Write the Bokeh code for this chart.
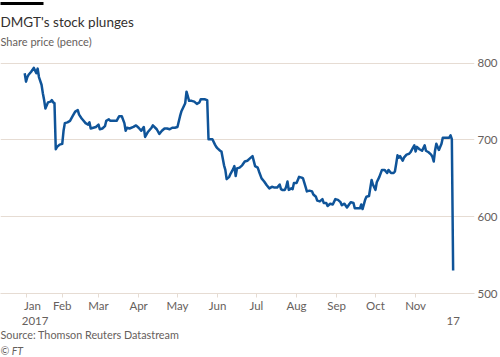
import pandas as pd
from bokeh.plotting import figure
from bokeh.models import FixedTicker, Range1d, DatetimeAxis, LinearAxis, Title
from bokeh.embed import file_html
from bokeh.resources import INLINE

# ---------------- data ----------------
dates = [
    "2017-01-03", "2017-01-04", "2017-01-05", "2017-01-06", "2017-01-08", "2017-01-10", "2017-01-12",
    "2017-01-13", "2017-01-14", "2017-01-16", "2017-01-17", "2017-01-18", "2017-01-19", "2017-01-21",
    "2017-01-23", "2017-01-24", "2017-01-25", "2017-01-26", "2017-01-27", "2017-01-28", "2017-01-30",
    "2017-02-01", "2017-02-02", "2017-02-03", "2017-02-05", "2017-02-07", "2017-02-09", "2017-02-11",
    "2017-02-13", "2017-02-14", "2017-02-16", "2017-02-17", "2017-02-19", "2017-02-21", "2017-02-22",
    "2017-02-23", "2017-02-25", "2017-02-27", "2017-03-01", "2017-03-02", "2017-03-04", "2017-03-06",
    "2017-03-07", "2017-03-09", "2017-03-10", "2017-03-12", "2017-03-15", "2017-03-17", "2017-03-19",
    "2017-03-21", "2017-03-22", "2017-03-23", "2017-03-25", "2017-03-28", "2017-03-30", "2017-04-01",
    "2017-04-03", "2017-04-05", "2017-04-06", "2017-04-08", "2017-04-11", "2017-04-12", "2017-04-15",
    "2017-04-17", "2017-04-19", "2017-04-21", "2017-04-23", "2017-04-25", "2017-04-27", "2017-04-29",
    "2017-05-01", "2017-05-03", "2017-05-04", "2017-05-07", "2017-05-08", "2017-05-10", "2017-05-12",
    "2017-05-14", "2017-05-16", "2017-05-18", "2017-05-19", "2017-05-22", "2017-05-24", "2017-05-25",
    "2017-05-26", "2017-05-28", "2017-05-30", "2017-05-31", "2017-06-01", "2017-06-03", "2017-06-04",
    "2017-06-06", "2017-06-07", "2017-06-08", "2017-06-10", "2017-06-11", "2017-06-13", "2017-06-14",
    "2017-06-15", "2017-06-16", "2017-06-18", "2017-06-20", "2017-06-22", "2017-06-24", "2017-06-26",
    "2017-06-28", "2017-06-30", "2017-07-02", "2017-07-03", "2017-07-05", "2017-07-07", "2017-07-09",
    "2017-07-11", "2017-07-13", "2017-07-15", "2017-07-17", "2017-07-19", "2017-07-20", "2017-07-21",
    "2017-07-23", "2017-07-24", "2017-07-25", "2017-07-26", "2017-07-28", "2017-07-29", "2017-07-30",
    "2017-08-01", "2017-08-02", "2017-08-03", "2017-08-05", "2017-08-06", "2017-08-08", "2017-08-09",
    "2017-08-11", "2017-08-13", "2017-08-14", "2017-08-16", "2017-08-17", "2017-08-19", "2017-08-21",
    "2017-08-22", "2017-08-24", "2017-08-25", "2017-08-27", "2017-08-29", "2017-08-31", "2017-09-02",
    "2017-09-04", "2017-09-05", "2017-09-07", "2017-09-09", "2017-09-11", "2017-09-12", "2017-09-14",
    "2017-09-15", "2017-09-17", "2017-09-19", "2017-09-20", "2017-09-21", "2017-09-23", "2017-09-24",
    "2017-09-26", "2017-09-28", "2017-09-29", "2017-10-01", "2017-10-02", "2017-10-04", "2017-10-06",
    "2017-10-08", "2017-10-10", "2017-10-11", "2017-10-13", "2017-10-15", "2017-10-16", "2017-10-17",
    "2017-10-18", "2017-10-19", "2017-10-20", "2017-10-22", "2017-10-23", "2017-10-25", "2017-10-27",
    "2017-10-28", "2017-10-30", "2017-10-31", "2017-11-01", "2017-11-02", "2017-11-04", "2017-11-06",
    "2017-11-08", "2017-11-09", "2017-11-11", "2017-11-13", "2017-11-14", "2017-11-15", "2017-11-16",
    "2017-11-17", "2017-11-18", "2017-11-19", "2017-11-21", "2017-11-22", "2017-11-24", "2017-11-26",
    "2017-11-27", "2017-11-28", "2017-11-29", "2017-11-30",
]
prices = [
    787, 776, 782, 785, 789, 794, 787,
    793, 782, 772, 761, 752, 741, 749,
    750, 752, 749, 748, 688, 691, 694,
    695, 712, 722, 723, 725, 731, 737,
    739, 733, 728, 726, 722, 720, 723,
    715, 716, 717, 720, 714, 715, 718,
    725, 727, 725, 725, 725, 731, 731,
    722, 712, 716, 715, 717, 719, 716,
    712, 717, 704, 710, 716, 719, 714,
    708, 712, 715, 715, 714, 716, 716,
    717, 731, 737, 748, 763, 751, 751,
    750, 747, 749, 753, 753, 752, 701,
    701, 701, 694, 691, 689, 686, 685,
    667, 661, 649, 652, 656, 662, 666,
    653, 663, 664, 667, 672, 673, 676,
    679, 666, 664, 659, 650, 646, 641,
    637, 639, 638, 638, 642, 636, 635,
    635, 639, 646, 635, 637, 636, 644,
    644, 648, 652, 651, 650, 639, 633,
    634, 633, 629, 626, 621, 620, 623,
    618, 618, 614, 617, 616, 623, 622,
    619, 615, 617, 612, 617, 619, 618,
    611, 611, 611, 616, 610, 622, 626,
    627, 648, 642, 635, 645, 652, 661,
    661, 657, 661, 657, 657, 659, 669,
    680, 677, 679, 673, 677, 681, 682,
    684, 690, 693, 685, 691, 688, 686,
    693, 686, 684, 681, 678, 672, 686,
    695, 691, 687, 695, 703, 703, 703,
    703, 706, 701, 530,
]

month_tick_dates = ["2017-01-04", "2017-02-01", "2017-03-01", "2017-04-01", "2017-05-01", "2017-06-01",
                    "2017-07-01", "2017-08-01", "2017-09-01", "2017-10-01", "2017-11-01"]
month_labels = ["Jan", "Feb", "Mar", "Apr", "May", "Jun", "Jul", "Aug", "Sep", "Oct", "Nov"]
year_label_dates = ["2017-01-04", "2017-11-30"]
year_labels = ["2017", "17"]
y_ticks = [500, 600, 700, 800]

title_text = "DMGT's stock plunges"
subtitle_text = "Share price (pence)"
source_text = "Source: Thomson Reuters Datastream"
credit_text = "\u00a9 FT"

# ---------------- style ----------------
FONT = "Lato"
GRID = "#e6dcd3"
GREY = "#66605c"
LINE = "#0f5499"
DARK = "#33302e"
TICK_FS = "11.5px"
# labels that start at their tick (left-aligned look) are centred a few days later
JAN_SHIFT = pd.Timedelta(days=5)
YEAR_SHIFT = pd.Timedelta(days=7)
FRAME_W = 476      # plot-area width in px (used for the brand bar axis)
BAR_W = 43


def ms(d):
    return int(pd.Timestamp(d).value // 10**6)


def blank_axis(size):
    """An invisible axis used only as vertical space (one hidden tick gives it height)."""
    mid = FRAME_W / 2
    ax = LinearAxis(x_range_name="px", ticker=FixedTicker(ticks=[mid] if size > 0 else []),
                    major_label_overrides={mid: ""})
    ax.axis_line_color = None
    ax.major_tick_line_color = None
    ax.minor_tick_line_color = None
    ax.major_tick_in = 0
    ax.major_tick_out = size
    ax.major_label_standoff = 0
    ax.major_label_text_font_size = "0px"
    return ax


x = pd.to_datetime(dates)

p = figure(width=500, height=357, x_axis_type="datetime", y_axis_location="right",
           x_range=Range1d(pd.Timestamp("2016-12-15 07:00"), pd.Timestamp("2017-12-16 12:00")),
           y_range=Range1d(500, 817.9), title=None,
           toolbar_location=None, output_backend="svg",
           min_border_left=0, min_border_right=24, min_border_top=49, min_border_bottom=60)
p.outline_line_color = None
p.background_fill_color = "white"
p.border_fill_color = "white"
p.extra_x_ranges = {"px": Range1d(0, FRAME_W)}

p.line(x=x, y=prices, line_color=LINE, line_width=2.5, line_join="round")

# x axis: line + tick marks only
tick_ms = [ms(d) for d in month_tick_dates]
xa = p.xaxis[0]
xa.ticker = FixedTicker(ticks=tick_ms)
xa.major_label_overrides = {t: "" for t in tick_ms}
xa.major_label_text_font_size = "0px"
xa.major_label_standoff = 0
xa.axis_line_color = GRID
xa.major_tick_line_color = GRID
xa.major_tick_in = 0
xa.major_tick_out = 4
xa.minor_tick_line_color = None
p.xgrid.visible = False


def label_axis(positions, labels, standoff):
    pos_ms = [int(pd.Timestamp(v).value // 10**6) for v in positions]
    ax = DatetimeAxis(ticker=FixedTicker(ticks=pos_ms),
                      major_label_overrides={t: lab for t, lab in zip(pos_ms, labels)})
    ax.axis_line_color = None
    ax.major_tick_line_color = None
    ax.minor_tick_line_color = None
    ax.major_tick_in = 0
    ax.major_tick_out = 0
    ax.major_label_standoff = standoff
    ax.major_label_text_font = FONT
    ax.major_label_text_font_size = TICK_FS
    ax.major_label_text_color = GREY
    return ax


row1_pos = [pd.Timestamp(month_tick_dates[0]) + JAN_SHIFT] + [pd.Timestamp(d) for d in month_tick_dates[1:]]
p.add_layout(label_axis(row1_pos, month_labels, 1), "below")
row2_pos = [pd.Timestamp(year_label_dates[0]) + YEAR_SHIFT, pd.Timestamp(year_label_dates[1])]
p.add_layout(label_axis(row2_pos, year_labels, 2), "below")

# y axis
ya = p.yaxis[0]
ya.ticker = FixedTicker(ticks=y_ticks)
ya.axis_line_color = None
ya.major_tick_line_color = None
ya.minor_tick_line_color = None
ya.major_tick_in = 0
ya.major_tick_out = 0
ya.major_label_standoff = 3
ya.major_label_text_font = FONT
ya.major_label_text_font_size = TICK_FS
ya.major_label_text_color = GREY
p.ygrid[0].ticker = ya.ticker
p.ygrid.grid_line_color = GRID
p.ygrid.grid_line_width = 1

# titles (first added sits nearest the plot)
p.add_layout(Title(text=subtitle_text, align="left", vertical_align="top", standoff=0,
                   text_font=FONT, text_font_size="11px", text_font_style="normal",
                   text_color=GREY), "above")
p.add_layout(Title(text=title_text, align="left", vertical_align="top", standoff=6,
                   text_font=FONT, text_font_size="13.5px", text_font_style="normal",
                   text_color=DARK), "above")
p.add_layout(blank_axis(7), "above")

# FT brand bar: a bounded axis line at the very top
bar_axis = blank_axis(0)
bar_axis.bounds = (0, BAR_W)
bar_axis.axis_line_color = "black"
bar_axis.axis_line_width = 3
p.add_layout(bar_axis, "above")

# footer
p.add_layout(Title(text=source_text, align="left", vertical_align="top", standoff=0,
                   text_font=FONT, text_font_size="10.8px", text_font_style="normal",
                   text_color=GREY), "below")
p.add_layout(Title(text=credit_text, align="left", vertical_align="bottom", standoff=1,
                   text_font=FONT, text_font_size="10.5px", text_font_style="italic",
                   text_color=GREY), "below")

open("out.html", "w").write(file_html(p, INLINE))
